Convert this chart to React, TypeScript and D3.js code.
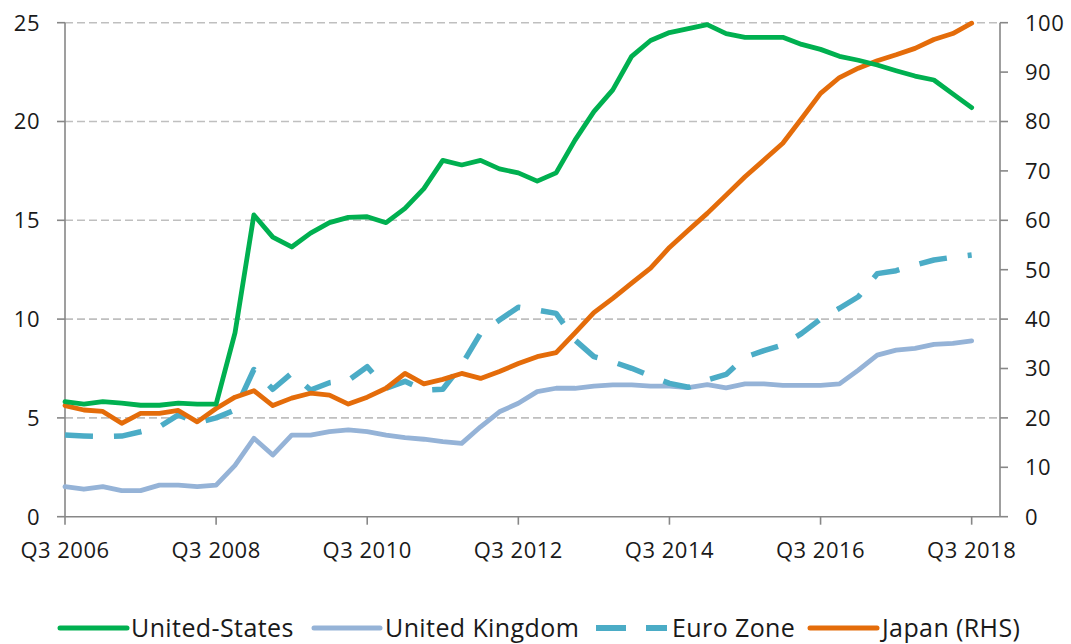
import React from "react";
import * as d3 from "d3";

const quarters: string[] = [];
for (let y = 2006; y <= 2018; y++) {
  for (const q of [1, 2, 3, 4]) {
    if ((y === 2006 && q < 3) || (y === 2018 && q > 3)) continue;
    quarters.push(`Q${q} ${y}`);
  }
}

const unitedStates = [
  5.82, 5.7, 5.82, 5.75, 5.64, 5.64, 5.75, 5.7, 5.7, 9.3,
  15.27, 14.15, 13.65, 14.35, 14.88, 15.15, 15.18, 14.88, 15.6, 16.6,
  18.03, 17.8, 18.03, 17.6, 17.4, 16.98, 17.4, 19.06, 20.5, 21.6,
  23.3, 24.1, 24.5, 24.7, 24.9, 24.45, 24.26, 24.26, 24.26, 23.9,
  23.65, 23.3, 23.1, 22.86, 22.57, 22.3, 22.1, 21.4, 20.7,
];

const unitedKingdom = [
  1.52, 1.39, 1.52, 1.32, 1.32, 1.6, 1.6, 1.52, 1.6, 2.6,
  3.97, 3.12, 4.13, 4.13, 4.3, 4.39, 4.3, 4.13, 4.0, 3.92,
  3.8, 3.71, 4.55, 5.31, 5.74, 6.33, 6.5, 6.5, 6.61, 6.67,
  6.67, 6.61, 6.61, 6.53, 6.68, 6.52, 6.72, 6.72, 6.65, 6.65,
  6.65, 6.72, 7.42, 8.18, 8.43, 8.52, 8.72, 8.77, 8.9,
];

const euroZone = [
  4.13, 4.08, 4.05, 4.08, 4.3, 4.55, 5.15, 4.75, 5.0, 5.4,
  7.45, 6.45, 7.26, 6.41, 6.78, 6.9, 7.59, 6.5, 6.85, 6.4,
  6.45, 7.68, 9.28, 9.95, 10.6, 10.46, 10.29, 8.94, 8.1, 7.84,
  7.51, 7.12, 6.75, 6.55, 6.92, 7.2, 8.07, 8.4, 8.69, 9.28,
  10.0, 10.55, 11.13, 12.3, 12.45, 12.74, 12.99, 13.13, 13.24,
];

const japanRHS = [
  22.5, 21.6, 21.3, 18.9, 20.9, 20.9, 21.5, 19.2, 21.9, 24.2,
  25.5, 22.5, 24.0, 25.0, 24.6, 22.8, 24.2, 26.0, 29.0, 26.9,
  27.8, 29.0, 28.0, 29.4, 31.0, 32.4, 33.2, 37.2, 41.3, 44.2,
  47.3, 50.3, 54.5, 58.0, 61.4, 65.1, 68.8, 72.2, 75.6, 80.6,
  85.7, 88.9, 90.8, 92.3, 93.5, 94.8, 96.6, 97.8, 99.9,
];

const leftTicks = [0, 5, 10, 15, 20, 25];
const rightTicks = [0, 10, 20, 30, 40, 50, 60, 70, 80, 90, 100];
const xTickLabels = ["Q3 2006", "Q3 2008", "Q3 2010", "Q3 2012", "Q3 2014", "Q3 2016", "Q3 2018"];

const seriesNames = ["United-States", "United Kingdom", "Euro Zone", "Japan (RHS)"];

const COLORS = {
  us: "#00B050",
  uk: "#95B3D7",
  ez: "#4BACC6",
  jp: "#E46C0A",
};

const FONT = "'Open Sans', 'Noto Sans', sans-serif";

export default function App() {
  const W = 1071;
  const H = 644;
  const left = 65;
  const right = 1000;
  const top = 22.7;
  const bottom = 516.7;

  const x = d3.scaleLinear().domain([0, 49.5]).range([left, right]);
  const yL = d3.scaleLinear().domain([0, 25]).range([bottom, top]);
  const yR = d3.scaleLinear().domain([0, 100]).range([bottom, top]);

  const lineL = d3
    .line<number>()
    .x((_, i) => x(i))
    .y((d) => yL(d));
  const lineR = d3
    .line<number>()
    .x((_, i) => x(i))
    .y((d) => yR(d));

  const axisColor = "#878787";
  const textColor = "#1a1a1a";

  const legendItems = [
    { name: seriesNames[0], color: COLORS.us, x1: 60, x2: 127, tx: 131, dash: undefined as string | undefined, w: 5 },
    { name: seriesNames[1], color: COLORS.uk, x1: 314, x2: 380, tx: 385, dash: undefined, w: 5 },
    { name: seriesNames[2], color: COLORS.ez, x1: 596, x2: 667, tx: 672, dash: "30 20", w: 6 },
    { name: seriesNames[3], color: COLORS.jp, x1: 810, x2: 877, tx: 882, dash: undefined, w: 5 },
  ];

  return (
    <svg
      width={W}
      height={H}
      viewBox={`0 0 ${W} ${H}`}
      style={{ position: "absolute", left: 0, top: 0, background: "#fff" }}
      fontFamily={FONT}
    >
      <rect x={0} y={0} width={W} height={H} fill="#fff" />
      {/* gridlines */}
      {leftTicks
        .filter((t) => t > 0)
        .map((t) => (
          <line
            key={`g${t}`}
            x1={left}
            x2={right}
            y1={yL(t)}
            y2={yL(t)}
            stroke="#BFBFBF"
            strokeWidth={1.6}
            strokeDasharray="8 4"
          />
        ))}

      {/* left axis */}
      <line x1={left} x2={left} y1={top} y2={bottom} stroke={axisColor} strokeWidth={1.6} />
      {leftTicks.map((t) => (
        <g key={`lt${t}`}>
          <line x1={left - 8} x2={left} y1={yL(t)} y2={yL(t)} stroke={axisColor} strokeWidth={1.6} />
          <text
            x={40}
            y={yL(t)}
            dy="0.36em"
            textAnchor="end"
            fontSize={22}
            letterSpacing={0.5}
            fill={textColor}
          >
            {t}
          </text>
        </g>
      ))}

      {/* right axis */}
      <line x1={right} x2={right} y1={top} y2={bottom} stroke={axisColor} strokeWidth={1.6} />
      {rightTicks.map((t) => (
        <g key={`rt${t}`}>
          <line x1={right} x2={right + 8} y1={yR(t)} y2={yR(t)} stroke={axisColor} strokeWidth={1.6} />
          <text
            x={1025}
            y={yR(t)}
            dy="0.36em"
            textAnchor="start"
            fontSize={22}
            letterSpacing={0.5}
            fill={textColor}
          >
            {t}
          </text>
        </g>
      ))}

      {/* x axis */}
      <line x1={left} x2={right} y1={bottom} y2={bottom} stroke={axisColor} strokeWidth={1.6} />
      {xTickLabels.map((lab) => {
        const idx = quarters.indexOf(lab);
        return (
          <g key={lab}>
            <line x1={x(idx)} x2={x(idx)} y1={bottom} y2={bottom + 8} stroke={axisColor} strokeWidth={1.6} />
            <text
              x={x(idx)}
              y={558}
              textAnchor="middle"
              fontSize={22}
              letterSpacing={0.5}
              fill={textColor}
            >
              {lab}
            </text>
          </g>
        );
      })}

      {/* series */}
      <path d={lineL(unitedKingdom) || ""} fill="none" stroke={COLORS.uk} strokeWidth={4.8} strokeLinejoin="round" strokeLinecap="round" />
      <path d={lineL(euroZone) || ""} fill="none" stroke={COLORS.ez} strokeWidth={5.5} strokeLinejoin="round" strokeDasharray="28 21" />
      <path d={lineR(japanRHS) || ""} fill="none" stroke={COLORS.jp} strokeWidth={4.8} strokeLinejoin="round" strokeLinecap="round" />
      <path d={lineL(unitedStates) || ""} fill="none" stroke={COLORS.us} strokeWidth={4.8} strokeLinejoin="round" strokeLinecap="round" />

      {/* legend */}
      {legendItems.map((it) => (
        <g key={it.name}>
          <line
            x1={it.x1}
            x2={it.x2}
            y1={628}
            y2={628}
            stroke={it.color}
            strokeWidth={it.w}
            strokeDasharray={it.dash}
            strokeLinecap={it.dash ? "butt" : "round"}
          />
          <text x={it.tx} y={637} fontSize={25} letterSpacing={0.4} fill={textColor}>
            {it.name}
          </text>
        </g>
      ))}
    </svg>
  );
}
